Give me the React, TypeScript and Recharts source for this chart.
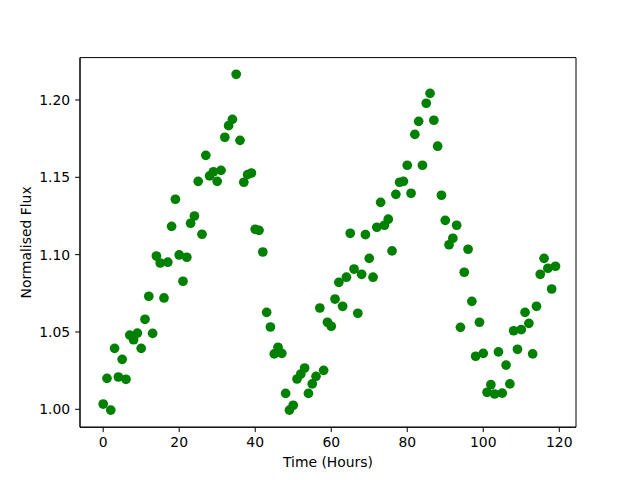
import React from "react";
import {
  ScatterChart,
  Scatter,
  XAxis,
  YAxis,
  ReferenceArea,
} from "recharts";

// time since start, hours
const hours = [
  0, 1, 2, 3, 4, 5, 6, 7, 8, 9, 10, 11, 12, 13, 14, 15, 16, 17, 18, 19,
  20, 21, 22, 23, 24, 25, 26, 27, 28, 29, 30, 31, 32, 33, 34, 35, 36, 37, 38, 39,
  40, 41, 42, 43, 44, 45, 46, 47, 48, 49, 50, 51, 52, 53, 54, 55, 56, 57, 58, 59,
  60, 61, 62, 63, 64, 65, 66, 67, 68, 69, 70, 71, 72, 73, 74, 75, 76, 77, 78, 79,
  80, 81, 82, 83, 84, 85, 86, 87, 88, 89, 90, 91, 92, 93, 94, 95, 96, 97, 98, 99,
  100, 101, 102, 103, 104, 105, 106, 107, 108, 109, 110, 111, 112, 113, 114, 115, 116, 117, 118, 119,
];

const flux = [
  1.0034, 1.02, 0.9995, 1.0394, 1.0209, 1.0323, 1.0194, 1.048, 1.045, 1.0493,
  1.0394, 1.0582, 1.0731, 1.0491, 1.0991, 1.0946, 1.072, 1.0951, 1.1183, 1.1358,
  1.0998, 1.0828, 1.0983, 1.1203, 1.125, 1.1474, 1.1132, 1.1642, 1.1509, 1.1536,
  1.1474, 1.1545, 1.1759, 1.1834, 1.1875, 1.2166, 1.1739, 1.1468, 1.1517, 1.1528,
  1.1164, 1.1157, 1.1017, 1.0627, 1.0532, 1.0358, 1.0401, 1.0362, 1.0103, 0.9995,
  1.0026, 1.0196, 1.0228, 1.0267, 1.0103, 1.0164, 1.0213, 1.0655, 1.0252, 1.0563,
  1.0537, 1.0713, 1.0821, 1.0666, 1.0854, 1.1138, 1.0907, 1.0621, 1.0873, 1.1129,
  1.0976, 1.0854, 1.1177, 1.1338, 1.119, 1.1229, 1.1024, 1.139, 1.1468, 1.1474,
  1.1578, 1.1397, 1.1778, 1.1862, 1.1578, 1.1979, 1.2043, 1.1869, 1.1701, 1.1384,
  1.1222, 1.1064, 1.1106, 1.119, 1.053, 1.0886, 1.1035, 1.0698, 1.0343, 1.0563,
  1.0362, 1.011, 1.0159, 1.0099, 1.0371, 1.0105, 1.0286, 1.0164, 1.0508, 1.0388,
  1.0515, 1.0627, 1.0556, 1.0358, 1.0666, 1.0873, 1.0976, 1.0912, 1.0778, 1.0925,
];

const xTicks = [0, 20, 40, 60, 80, 100, 120];
const yTicks = [1.0, 1.05, 1.1, 1.15, 1.2];

const X_DOMAIN: [number, number] = [-6.1, 124.4];
const Y_DOMAIN: [number, number] = [0.98843, 1.2274];

const FONT = "DejaVu Sans";
const tickStyle = { fontFamily: FONT, fontSize: 13.9, fill: "#000" };

const data = hours.map((t, i) => ({ t, f: flux[i] }));

const Dot = (props: any) => (
  <circle cx={props.cx} cy={props.cy} r={4.85} fill="#008000" />
);

const XLabel = () => (
  <text x={328} y={467} textAnchor="middle" fontFamily={FONT} fontSize={13.9} fill="#000">
    Time (Hours)
  </text>
);

const YLabel = () => (
  <text
    x={31}
    y={242.4}
    transform="rotate(-90 31 242.4)"
    textAnchor="middle"
    fontFamily={FONT}
    fontSize={13.9}
    fill="#000"
  >
    Normalised Flux
  </text>
);

export default function App() {
  return (
    <div style={{ position: "absolute", left: 0, top: 0, background: "#fff" }}>
      <ScatterChart
        width={640}
        height={480}
        margin={{ top: 57.6, right: 64, bottom: 0, left: 0 }}
      >
        <XAxis
          type="number"
          dataKey="t"
          domain={X_DOMAIN}
          ticks={xTicks}
          allowDataOverflow
          height={52.8}
          tick={tickStyle}
          tickSize={4.9}
          tickMargin={5}
          axisLine={{ stroke: "#000" }}
          tickLine={{ stroke: "#000" }}
          label={<XLabel />}
        />
        <YAxis
          type="number"
          dataKey="f"
          domain={Y_DOMAIN}
          ticks={yTicks}
          allowDataOverflow
          width={80}
          tick={tickStyle}
          tickSize={4.9}
          tickMargin={5}
          tickFormatter={(v: number) => v.toFixed(2)}
          axisLine={{ stroke: "#000" }}
          tickLine={{ stroke: "#000" }}
          label={<YLabel />}
        />
        <ReferenceArea
          x1={X_DOMAIN[0]}
          x2={X_DOMAIN[1]}
          y1={Y_DOMAIN[0]}
          y2={Y_DOMAIN[1]}
          fill="none"
          stroke="#000"
          strokeWidth={1}
          ifOverflow="visible"
        />
        <Scatter data={data} shape={<Dot />} isAnimationActive={false} />
      </ScatterChart>
    </div>
  );
}
